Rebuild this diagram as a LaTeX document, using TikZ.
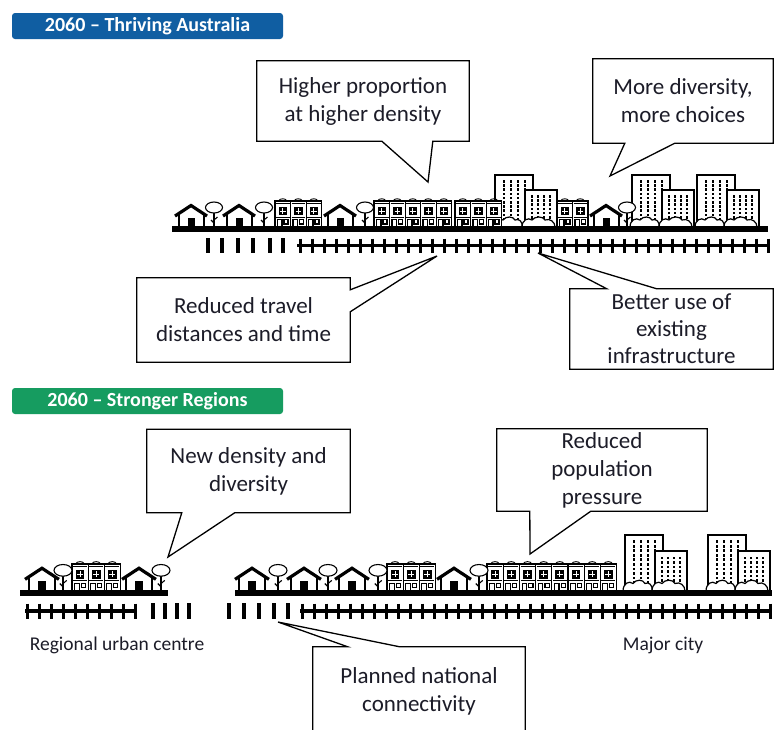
\documentclass[tikz,border=0pt]{standalone}
\usepackage{fontspec}
\setmainfont{Carlito}

\definecolor{thrivingblue}{RGB}{16,94,162}
\definecolor{regionsgreen}{RGB}{22,156,96}
\definecolor{calloutink}{RGB}{28,28,40}

\tikzstyle{banner} = [
  rectangle,
  rounded corners=3pt,
  minimum width=271pt,
  minimum height=26pt,
  inner sep=0,
  text=white,
  font=\bfseries\fontsize{20}{24}\selectfont
]
\tikzstyle{bubble} = [
  rectangle,
  inner sep=0,
  align=center,
  text=calloutink,
  font=\fontsize{23}{28}\selectfont
]
\tikzstyle{outline} = [
  draw=black,
  line width=1.3pt,
  line join=miter
]
\tikzstyle{place} = [
  text=calloutink,
  font=\fontsize{19.5}{23}\selectfont
]
\tikzstyle{ground} = [line width=6pt]
\tikzstyle{rail} = [line width=3.6pt]
\tikzstyle{sleeper} = [line width=3pt]
\tikzstyle{loose sleeper} = [line width=3.8pt]

% little town icons, origin at the bottom left, up is negative y
\tikzset{
  pics/house/.style={code={
    \fill (12.5,0) rectangle (19.5,-9);
    \draw[line width=2pt] (3.5,0) -- (3.5,-12) (28.5,0) -- (28.5,-12);
    \draw[line width=3.2pt, line join=miter] (0,-11) -- (16,-21.5) -- (32,-11);
  }},
  pics/tree/.style={code={
    \draw[line width=1.5pt] (0,0) -- (0,-15);
    \draw[line width=1.1pt] (0,-7) -- (3.5,-10) (0,-4) -- (-3,-7);
    \draw[line width=1.1pt, fill=white] (0,-19.5) ellipse [x radius=8.5, y radius=5.5];
  }},
  pics/terrace/.style={code={
    \foreach \k in {1,...,#1} {
      \begin{scope}[shift={({(\k-1)*15.5},0)}]
        \draw[line width=0.9pt, fill=white] (0,0) rectangle (15.5,-26);
        \draw[line width=0.9pt] (3.5,-26) .. controls (4.5,-29) and (11,-29) .. (12,-26);
        \draw[line width=0.8pt] (1,-23.5) -- (14.5,-23.5);
        \fill (3.5,-20) rectangle (12,-12);
        \draw[white, line width=0.8pt] (5,-16) -- (10.5,-16) (7.75,-19) -- (7.75,-13);
        \draw[line width=0.8pt] (1,-10) -- (14.5,-10);
        \draw[line width=1.1pt] (2.5,0) -- (2.5,-7.5) -- (7,-7.5) -- (7,0);
        \draw[line width=1.1pt] (9,-3) rectangle (13,-7.5);
      \end{scope}
    }
    \draw[line width=1.1pt] (0,0) rectangle ({#1*15.5},-26);
  }},
  pics/towers/.style={code={
    \draw[line width=1.4pt, fill=white] (0,0) rectangle (38,-52);
    \foreach \c in {7.5,14.5,21.5,28.5}
      \foreach \r in {0,...,10}
        \fill (\c,{-47+4.2*\r}) rectangle ++(2.4,2.6);
    \draw[line width=1.4pt, fill=white] (30,0) rectangle (62,-37);
    \foreach \c in {36,42,48,54}
      \foreach \r in {0,...,6}
        \fill (\c,{-32+4.2*\r}) rectangle ++(2.4,2.6);
    \draw[line width=1.2pt, fill=white] (-2,0) .. controls (-2,-7) and (4,-10) .. (8,-7)
      .. controls (11,-11) and (18,-11) .. (20,-7) .. controls (24,-9) and (28,-5) .. (27,0);
    \draw[line width=1.2pt, fill=white] (27,0) .. controls (27,-7) and (33,-10) .. (37,-7)
      .. controls (40,-11) and (48,-11) .. (50,-7) .. controls (55,-9) and (60,-5) .. (60,0);
  }}
}

\begin{document}
\begin{tikzpicture}[x=1pt, y=-1pt]

    \path[use as bounding box, fill=white] (0,0) rectangle (775,729);

    % headings
    \node (thriving) [banner, fill=thrivingblue] at (147.5,26) {2060 – Thriving Australia};
    \node (regions) [banner, fill=regionsgreen] at (147.5,401) {2060 – Stronger Regions};

    % ---- Thriving Australia strip ----
    \foreach \x in {495,632,697} \pic at (\x,227) {towers};
    \pic at (275,227) {terrace=3};
    \pic at (374,227) {terrace=5};
    \pic at (455,227) {terrace=3};
    \pic at (557,227) {terrace=2};
    \foreach \x in {175,223,324,590} \pic at (\x,227) {house};
    \foreach \x in {214,264,365,627} \pic at (\x,227) {tree};
    \draw[ground] (172,229) -- (768,229);

    \foreach \x in {208,222,238,253,270,283} \draw[loose sleeper] (\x,238) -- (\x,253);
    \draw[rail] (297,245.5) -- (770,245.5);
    \foreach \x in {300,312,...,768} \draw[sleeper] (\x,238.5) -- (\x,252.5);

    \node (higher) [bubble, minimum width=212, minimum height=80] at (363,101) {Higher proportion\\at higher density};
    \node (diversity) [bubble, minimum width=180, minimum height=84] at (683,101) {More diversity,\\more choices};
    \node (travel) [bubble, minimum width=213, minimum height=84] at (243.5,320) {Reduced travel\\distances and time};
    \node (better) [bubble, minimum width=203, minimum height=80, font=\fontsize{23}{27}\selectfont] at (671.5,329) {Better use of\\existing\\infrastructure};

    \coordinate (higher tip) at (428,182);
    \coordinate (diversity tip) at (610,176);
    \coordinate (travel tip) at (437,256);
    \coordinate (better tip) at (538,253);

    \draw[outline] (higher.north west) -- (higher.north east) -- (higher.south east)
      -- ([xshift=176]higher.south west) -- (higher tip) -- ([xshift=125]higher.south west)
      -- (higher.south west) -- cycle;
    \draw[outline] (diversity.north west) -- (diversity.north east) -- (diversity.south east)
      -- ([xshift=82]diversity.south west) -- (diversity tip) -- ([xshift=32]diversity.south west)
      -- (diversity.south west) -- cycle;
    \draw[outline] (travel.north west) -- (travel.north east) -- ([yshift=-12]travel.north east)
      -- (travel tip) -- ([yshift=-34]travel.north east) -- (travel.south east)
      -- (travel.south west) -- cycle;
    \draw[outline] (better.north west) -- ([xshift=37]better.north west) -- (better tip)
      -- ([xshift=87]better.north west) -- (better.north east) -- (better.south east)
      -- (better.south west) -- cycle;

    % ---- Stronger Regions strip ----
    \foreach \x in {625,708} \pic[yscale=1.077] at (\x,591) {towers};
    \pic[scale=1.04] at (72,591) {terrace=3};
    \pic[scale=1.04] at (387,591) {terrace=3};
    \pic[scale=1.04] at (487,591) {terrace=2};
    \pic[scale=1.04] at (519.5,591) {terrace=3};
    \pic[scale=1.04] at (568,591) {terrace=3};
    \foreach \x in {25,122,235,287,335,437} \pic[scale=1.06] at (\x,591) {house};
    \foreach \x in {63,161,278,328,378,479} \pic[scale=1.06] at (\x,591) {tree};
    \draw[ground] (20,593) -- (168,593);
    \draw[ground] (235,593) -- (772,593);

    \draw[rail] (25,611) -- (135,611);
    \foreach \x in {27,39,...,135} \draw[sleeper] (\x,603.5) -- (\x,618.5);
    \foreach \x in {153,165,177,189,229,244,259,274,288} \draw[loose sleeper] (\x,603) -- (\x,619);
    \draw[rail] (300,611) -- (772,611);
    \foreach \x in {302,314,...,770} \draw[sleeper] (\x,603.5) -- (\x,618.5);

    \node (regional) [place] at (117,645) {Regional urban centre};
    \node (major) [place] at (663,645) {Major city};

    \node (newdensity) [bubble, minimum width=203, minimum height=83] at (248.5,471) {New density and\\diversity};
    \node (pressure) [bubble, minimum width=210, minimum height=82] at (602,470) {Reduced\\population\\pressure};
    \node (connectivity) [bubble, minimum width=212, minimum height=88] at (419,691) {Planned national\\connectivity};

    \coordinate (newdensity tip) at (168,557);
    \coordinate (pressure tip) at (530,554);
    \coordinate (connectivity tip) at (278,622);

    \draw[outline] (newdensity.north west) -- (newdensity.north east) -- (newdensity.south east)
      -- ([xshift=88]newdensity.south west) -- (newdensity tip) -- ([xshift=35]newdensity.south west)
      -- (newdensity.south west) -- cycle;
    \draw[outline] (pressure.north west) -- (pressure.north east) -- (pressure.south east)
      -- ([xshift=94]pressure.south west) -- (pressure tip) -- ([xshift=33]pressure.south west)
      -- (pressure.south west) -- cycle;
    \draw[outline] (connectivity.north west) -- ([xshift=35]connectivity.north west) -- (connectivity tip)
      -- ([xshift=87]connectivity.north west) -- (connectivity.north east) -- (connectivity.south east)
      -- (connectivity.south west) -- cycle;

\end{tikzpicture}
\end{document}
